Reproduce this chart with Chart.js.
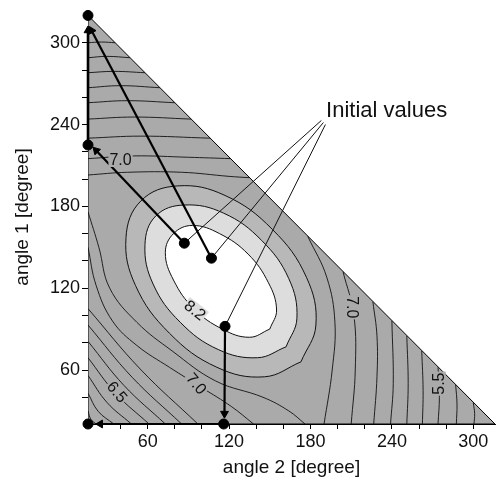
<!DOCTYPE html>
<html><head><meta charset="utf-8">
<script src="https://cdn.jsdelivr.net/npm/chart.js@4.4.1/dist/chart.umd.min.js"></script>
<style>html,body{margin:0;padding:0;background:#fff}</style>
</head><body>
<canvas id="c" width="501" height="488"></canvas>
<script>
// ---- axis ticks ----
const xTickValues = [40,60,80,100,120,140,160,180,200,220,240,260,280,300];
const yTickValues = [40,60,80,100,120,140,160,180,200,220,240,260,280,300];
const labeledTicks = [60,120,180,240,300];

// ---- domain (angle 2, angle 1) ----
const domainTriangle = [[16,20.4],[16,320],[316,20.4],[16,20.4]];

// ---- closed contours around the maximum ----
const contour82 = [[150,90],[155,104],[149,124],[134,145],[113,160],[93,166],[79,160],[73,146],[79,126],[94,105],[115,90],[135,84],[150,90]];
const contour80 = [[162,77],[170,98],[164,127],[144,155],[116,175],[87,181],[66,173],[58,152],[64,123],[84,95],[112,75],[141,69],[162,77]];
const contour78 = [[173,66],[184,93],[177,128],[152,163],[117,188],[82,195],[55,184],[44,157],[51,122],[76,87],[111,62],[146,55],[173,66]];

// ---- open contours: lower-left corner family ----
const lowerLeft = [
  [[16,30],[18,24],[22,20.4]],
  [[16,43],[23.5,29.7],[35,20.4]],
  [[16,56],[30,36.2],[48,20.4]],
  [[16,69],[36.5,42.7],[61,20.4]],
  [[16,81],[42.5,48.7],[73,20.4]],
  [[16,93],[48.5,54.7],[85,20.4]],
  [[16,105],[54.5,60.7],[97,20.4]],
  [[16,150],[22,122],[34,96],[52,78],[76,62],[100,47],[122,33],[138,20.4]],
  [[16,176],[24,150],[32,120],[52,95],[78,74],[110,52],[145,40],[164,30],[176,20.4]]
];
// ---- open contours: upper family (left edge to hypotenuse) ----
const upper = [
  [[16,300],[26,300.5],[36,300]],
  [[16,289],[30,290],[47,289]],
  [[16,278],[35,279],[58,278]],
  [[16,267],[40,268.5],[69,267]],
  [[16,256],[45,257.5],[80,256]],
  [[16,244],[50,245.5],[92,244]],
  [[16,230],[55,231.5],[106,230]],
  [[16,215],[50,217],[90,216],[121,215]],
  [[16,203],[45,205],[85,205],[120,202],[135,201]]
];
// ---- open contours: right family (bottom edge to hypotenuse) ----
const right = [
  [[190,20.4],[196,60],[198,95],[192,128],[178,158]],
  [[210,20.4],[213,60],[212,100],[204,132]],
  [[226.6,20.4],[229,55],[229,85],[226,110]],
  [[239,20.4],[241,50],[240,96]],
  [[251,20.4],[252,50],[251,85]],
  [[262.5,20.4],[263,45],[262,74]],
  [[274,20.4],[275,40],[274,62]],
  [[287.5,20.4],[288,35],[287,49]],
  [[300.5,20.4],[301,28],[300,36]]
];

// ---- optimisation paths ----
const initialValues = [[87,153],[107,142],[117,92]];
const endPoints = [[16,320],[16,225],[116,20.4],[16,20.4]];
const arrows = [
  [[107,142],[18.6,309]],
  [[16,225],[16,309]],
  [[87,153],[22,221]],
  [[117,92],[116.6,28]],
  [[116,20.4],[25,20.4]]
];
const leaderStart = [[188,243],[189.5,241.5],[191,240]];

// ---- text ----
const contourLabels = [
  {text:'7.0', x:40, y:214, rot:0},
  {text:'8.2', x:95, y:104, rot:38},
  {text:'6.5', x:37.5, y:44, rot:50},
  {text:'7.0', x:96, y:50, rot:50},
  {text:'7.0', x:211, y:106, rot:90},
  {text:'5.5', x:274.5, y:50, rot:-90}
];
const annotation = {text:'Initial values', x:191.5, y:250};

const FONT = '"Liberation Sans", Arial, Helvetica, sans-serif';
const pts = a => a.map(p => ({x:p[0], y:p[1]}));

const BASE = '#aaaaaa', BAND1 = '#b8b8b8', BAND2 = '#dddddd';
const datasets = [];
datasets.push({data:pts(domainTriangle), fill:'shape', backgroundColor:BASE, borderColor:'#000', borderWidth:1, order:30, tension:0});
datasets.push({data:pts(contour78), fill:'shape', backgroundColor:BAND1, borderColor:'#111', borderWidth:1, order:29, tension:0.4});
datasets.push({data:pts(contour80), fill:'shape', backgroundColor:BAND2, borderColor:'#111', borderWidth:1, order:28, tension:0.4});
datasets.push({data:pts(contour82), fill:'shape', backgroundColor:'#ffffff', borderColor:'#111', borderWidth:1, order:27, tension:0.4});
[...lowerLeft, ...upper, ...right].forEach(c => {
  datasets.push({data:pts(c), fill:false, borderColor:'#111', borderWidth:0.9, order:20, tension:0.4});
});
leaderStart.forEach((s,i) => {
  datasets.push({data:pts([s, initialValues[i]]), fill:false, borderColor:'#111', borderWidth:1, order:5, tension:0, clip:false});
});
arrows.forEach((a, i) => {
  datasets.push({
    data:pts(a), fill:false, borderColor:'#000', borderWidth:(i === 1 ? 2.6 : 2.2), order:3, tension:0, clip:false,
    pointRadius:[0,4.5], pointStyle:'triangle', pointBackgroundColor:'#000', pointBorderColor:'#000', pointBorderWidth:1,
    pointRotation: (ctx) => {
      const d = ctx.dataset.data, ch = ctx.chart;
      const dx = ch.scales.x.getPixelForValue(d[1].x) - ch.scales.x.getPixelForValue(d[0].x);
      const dy = ch.scales.y.getPixelForValue(d[1].y) - ch.scales.y.getPixelForValue(d[0].y);
      return Math.atan2(dx, -dy) * 180 / Math.PI;
    }
  });
});
datasets.push({data:pts([...initialValues, ...endPoints]), showLine:false, pointRadius:5, pointBackgroundColor:'#000', pointBorderColor:'#000', order:1, clip:false});

const textPlugin = {
  id:'contourText',
  afterDatasetsDraw(chart) {
    const {ctx} = chart, sx = chart.scales.x, sy = chart.scales.y;
    ctx.save();
    ctx.font = '16px ' + FONT;
    ctx.textAlign = 'center'; ctx.textBaseline = 'middle';
    contourLabels.forEach((l, i) => {
      const px = sx.getPixelForValue(l.x), py = sy.getPixelForValue(l.y);
      ctx.save(); ctx.translate(px, py); ctx.rotate(l.rot * Math.PI / 180);
      const w = ctx.measureText(l.text).width;
      ctx.fillStyle = (i === 1) ? BAND2 : BASE;
      ctx.fillRect(-w/2 - 1, -7, w + 2, 14);
      ctx.fillStyle = '#111';
      ctx.fillText(l.text, 0, 1);
      ctx.restore();
    });
    ctx.font = '22px ' + FONT;
    ctx.textAlign = 'left';
    ctx.fillStyle = '#111';
    ctx.fillText(annotation.text, sx.getPixelForValue(annotation.x), sy.getPixelForValue(annotation.y));
    ctx.restore();
  }
};

const tickFont = {family:FONT, size:18};
const titleFont = {family:FONT, size:19};
new Chart(document.getElementById('c'), {
  type:'line',
  data:{datasets},
  options:{
    responsive:false, animation:false,
    plugins:{legend:{display:false}, tooltip:{enabled:false}},
    layout:{padding:{top:10, right:4, left:0, bottom:0}},
    elements:{point:{radius:0, hoverRadius:0}},
    scales:{
      x:{
        type:'linear', min:16, max:316,
        afterBuildTicks: s => { s.ticks = xTickValues.map(v => ({value:v})); },
        afterFit: s => { s.height = 64; s.paddingLeft = 0; s.paddingRight = 0; },
        ticks:{autoSkip:false, maxRotation:0, padding:2, color:'#111', font:tickFont,
          callback: v => labeledTicks.includes(v) ? String(v) : ''},
        grid:{drawOnChartArea:false, tickLength:5, color:'#000'},
        border:{display:true, color:'#000', width:1},
        title:{display:true, text:'angle 2 [degree]', color:'#111', font:titleFont, padding:{top:0, bottom:9}}
      },
      y:{
        type:'linear', min:20.4, max:324,
        afterBuildTicks: s => { s.ticks = yTickValues.map(v => ({value:v})); },
        afterFit: s => { s.width = 88; s.paddingTop = 0; s.paddingBottom = 0; },
        ticks:{autoSkip:false, padding:2, color:'#111', font:tickFont,
          callback: v => labeledTicks.includes(v) ? String(v) : ''},
        grid:{drawOnChartArea:false, tickLength:6, color:'#000'},
        border:{display:true, color:'#000', width:1},
        title:{display:true, text:'angle 1 [degree]', color:'#111', font:titleFont, padding:{top:11, bottom:0}}
      }
    }
  },
  plugins:[textPlugin]
});
</script>
</body></html>
